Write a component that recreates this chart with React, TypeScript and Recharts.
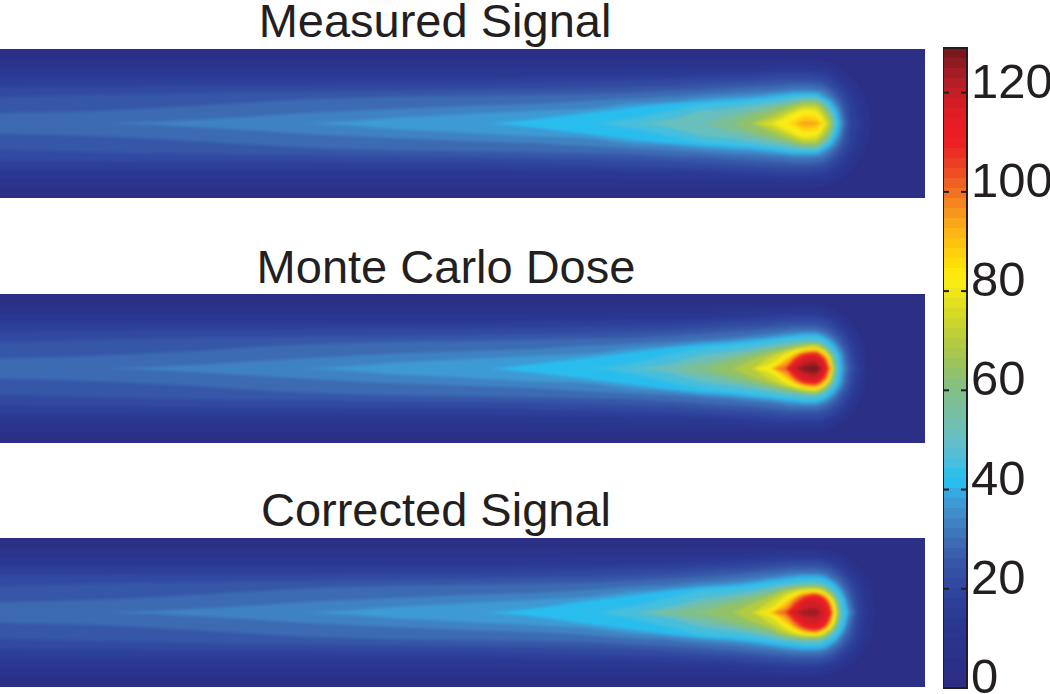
import { AreaChart, Area, BarChart, Bar, XAxis, YAxis, ReferenceArea } from 'recharts';

// position along the beam where the contour half-widths were read
const X_STOPS = [-20, 100, 200, 300, 400, 480, 540, 590, 630, 670, 700, 730, 750, 770, 785, 795, 805, 815, 822, 826, 829, 832, 834, 836, 838, 840, 842, 844, 846, 849, 852, 856, 860, 864, 868, 872, 876, 880, 945];

const LEVELS = [6, 10, 14, 18, 22, 26, 30, 34, 38, 42, 48, 54, 60, 66, 72, 78, 84, 90, 96, 102, 108, 114, 120, 125];

// one row per level, half-width of the contour at each stop (missing = 0)
const measuredWidths = [
  [64, 64, 64, 64, 64, 64, 64, 64, 64, 64, 64, 64, 64, 64, 64, 64, 64, 64, 63, 62, 61, 60, 59, 58, 57, 55, 54, 53, 51, 49, 46, 41, 35, 28, 16],
  [54, 54, 54, 54, 54, 54, 54, 54, 55, 55, 55, 56, 56, 57, 58, 58, 58, 57, 56, 55, 54, 53, 51, 50, 49, 47, 46, 44, 42, 38, 34, 27, 16],
  [46, 46, 46, 46, 46, 46, 47, 47, 48, 48, 49, 50, 51, 52, 53, 53, 53, 52, 51, 50, 48, 47, 46, 44, 43, 41, 39, 37, 34, 30, 24, 11],
  [37, 38, 39, 39, 40, 40, 41, 42, 43, 44, 45, 46, 47, 48, 49, 49, 49, 48, 47, 45, 44, 42, 40, 38, 37, 34, 32, 29, 25, 18],
  [26, 29, 31, 32, 33, 34, 35, 36, 37, 38, 40, 41, 42, 43, 44, 44, 44, 43, 42, 40, 38, 36, 34, 32, 30, 27, 24, 20, 14],
  [10, 13, 18, 24, 27, 28, 29, 30, 31, 33, 34, 36, 37, 38, 39, 40, 40, 39, 38, 36, 34, 31, 29, 27, 24, 21, 16, 10],
  [0, 0, 4, 10, 15, 18, 20, 23, 25, 27, 29, 31, 32, 33, 34, 35, 35, 34, 33, 31, 29, 26, 24, 22, 19, 15, 9],
  [0, 0, 0, 0, 6, 10, 13, 15, 20, 22, 25, 27, 28, 30, 31, 32, 32, 32, 30, 27, 25, 23, 20, 17, 14, 8],
  [0, 0, 0, 0, 0, 0, 5, 11, 16, 20, 22, 24, 25, 27, 29, 30, 30, 30, 27, 25, 23, 20, 17, 13, 8],
  [0, 0, 0, 0, 0, 0, 0, 0, 5, 13, 19, 21, 23, 25, 27, 28, 28, 28, 25, 23, 20, 16, 13, 8],
  [0, 0, 0, 0, 0, 0, 0, 0, 0, 4, 12, 15, 18, 21, 23, 25, 26, 26, 23, 20, 17, 12, 7],
  [0, 0, 0, 0, 0, 0, 0, 0, 0, 0, 0, 8, 13, 17, 20, 22, 24, 24, 21, 18, 14, 8],
  [0, 0, 0, 0, 0, 0, 0, 0, 0, 0, 0, 0, 8, 14, 18, 20, 22, 22, 18, 14, 9],
  [0, 0, 0, 0, 0, 0, 0, 0, 0, 0, 0, 0, 0, 8, 14, 18, 20, 20, 15, 11, 6],
  [0, 0, 0, 0, 0, 0, 0, 0, 0, 0, 0, 0, 0, 3, 10, 14, 17, 17, 11, 4],
  [0, 0, 0, 0, 0, 0, 0, 0, 0, 0, 0, 0, 0, 0, 6, 11, 14, 13, 6],
  [0, 0, 0, 0, 0, 0, 0, 0, 0, 0, 0, 0, 0, 0, 0, 3, 8, 7, 1],
  [0, 0, 0, 0, 0, 0, 0, 0, 0, 0, 0, 0, 0, 0, 0, 0, 3, 2],
];

const monteCarloWidths = [
  [64, 64, 64, 64, 64, 64, 64, 64, 64, 64, 64, 64, 64, 64, 64, 64, 64, 64, 63, 62, 61, 60, 59, 58, 57, 55, 54, 53, 51, 48, 45, 40, 33, 24],
  [54, 54, 54, 54, 54, 54, 54, 54, 55, 55, 55, 56, 57, 58, 58, 59, 59, 59, 58, 57, 55, 54, 53, 52, 50, 49, 47, 45, 43, 40, 35, 28, 17],
  [46, 46, 46, 46, 46, 46, 47, 47, 48, 48, 49, 51, 52, 53, 54, 54, 54, 54, 53, 51, 50, 49, 47, 46, 45, 43, 41, 39, 36, 32, 27, 16],
  [37, 38, 39, 39, 40, 40, 41, 42, 43, 44, 45, 47, 48, 49, 50, 51, 51, 51, 50, 48, 47, 45, 43, 42, 40, 38, 36, 33, 30, 24, 16],
  [26, 29, 31, 32, 33, 34, 35, 36, 37, 38, 40, 42, 43, 44, 46, 46, 46, 46, 44, 43, 41, 39, 38, 36, 34, 32, 29, 26, 23, 15],
  [10, 13, 18, 24, 27, 28, 29, 30, 31, 33, 35, 37, 38, 40, 41, 42, 42, 42, 40, 39, 37, 35, 33, 31, 29, 26, 23, 19, 14],
  [0, 0, 4, 10, 15, 18, 20, 23, 25, 27, 29, 31, 33, 35, 37, 38, 38, 38, 36, 35, 33, 31, 29, 27, 24, 22, 18, 13],
  [0, 0, 0, 0, 6, 10, 13, 15, 20, 23, 26, 28, 30, 32, 34, 35, 36, 36, 34, 32, 30, 28, 26, 24, 21, 17, 13],
  [0, 0, 0, 0, 0, 0, 5, 11, 16, 21, 24, 26, 28, 30, 32, 33, 34, 34, 32, 30, 28, 25, 23, 20, 17, 12],
  [0, 0, 0, 0, 0, 0, 0, 0, 5, 14, 20, 23, 25, 28, 30, 31, 32, 32, 30, 28, 25, 22, 20, 16, 12],
  [0, 0, 0, 0, 0, 0, 0, 0, 0, 5, 13, 17, 20, 23, 26, 27, 28, 28, 26, 24, 21, 18, 15, 11],
  [0, 0, 0, 0, 0, 0, 0, 0, 0, 0, 6, 13, 17, 21, 24, 25, 26, 26, 24, 21, 18, 14, 10],
  [0, 0, 0, 0, 0, 0, 0, 0, 0, 0, 0, 8, 13, 18, 21, 23, 25, 25, 23, 20, 17, 12, 7],
  [0, 0, 0, 0, 0, 0, 0, 0, 0, 0, 0, 0, 8, 15, 19, 21, 23, 24, 21, 19, 15, 10],
  [0, 0, 0, 0, 0, 0, 0, 0, 0, 0, 0, 0, 0, 11, 17, 20, 22, 23, 20, 17, 14, 7],
  [0, 0, 0, 0, 0, 0, 0, 0, 0, 0, 0, 0, 0, 4, 14, 18, 20, 21, 18, 15, 11],
  [0, 0, 0, 0, 0, 0, 0, 0, 0, 0, 0, 0, 0, 0, 10, 15, 19, 20, 17, 14, 9],
  [0, 0, 0, 0, 0, 0, 0, 0, 0, 0, 0, 0, 0, 0, 7, 14, 17, 18, 15, 11, 6],
  [0, 0, 0, 0, 0, 0, 0, 0, 0, 0, 0, 0, 0, 0, 3, 12, 16, 17, 14, 10],
  [0, 0, 0, 0, 0, 0, 0, 0, 0, 0, 0, 0, 0, 0, 0, 10, 15, 16, 12, 8],
  [0, 0, 0, 0, 0, 0, 0, 0, 0, 0, 0, 0, 0, 0, 0, 8, 14, 15, 11, 5],
  [0, 0, 0, 0, 0, 0, 0, 0, 0, 0, 0, 0, 0, 0, 0, 3, 11, 12, 7],
  [0, 0, 0, 0, 0, 0, 0, 0, 0, 0, 0, 0, 0, 0, 0, 0, 5, 7],
  [0, 0, 0, 0, 0, 0, 0, 0, 0, 0, 0, 0, 0, 0, 0, 0, 1, 3],
];

const correctedWidths = [
  [64, 64, 64, 64, 64, 64, 64, 64, 64, 64, 64, 64, 64, 64, 64, 64, 64, 64, 63, 63, 62, 61, 61, 60, 59, 58, 57, 56, 55, 53, 51, 47, 43, 38, 31, 23],
  [54, 54, 54, 54, 54, 54, 54, 55, 55, 55, 56, 57, 58, 59, 60, 60, 60, 60, 59, 58, 58, 57, 56, 55, 54, 53, 51, 50, 48, 46, 43, 38, 31, 23],
  [46, 46, 46, 46, 46, 46, 47, 47, 48, 49, 50, 51, 53, 54, 55, 55, 55, 55, 54, 53, 52, 51, 50, 49, 48, 47, 46, 44, 42, 39, 36, 30, 22],
  [37, 38, 39, 39, 40, 40, 41, 42, 43, 44, 46, 47, 49, 50, 51, 52, 52, 52, 51, 50, 49, 48, 47, 45, 44, 42, 41, 39, 37, 33, 28, 19],
  [26, 29, 31, 32, 33, 34, 35, 36, 37, 39, 41, 43, 44, 46, 47, 48, 48, 48, 47, 46, 45, 43, 42, 41, 39, 38, 36, 34, 31, 27, 20],
  [10, 13, 18, 24, 27, 28, 29, 30, 32, 34, 36, 38, 40, 42, 43, 44, 44, 44, 43, 42, 41, 39, 38, 36, 35, 33, 31, 28, 25, 19, 10],
  [0, 0, 4, 10, 15, 18, 20, 23, 26, 28, 31, 33, 35, 37, 39, 40, 40, 40, 39, 38, 36, 35, 33, 32, 30, 28, 25, 22, 18, 9],
  [0, 0, 0, 0, 6, 10, 13, 16, 21, 24, 27, 29, 31, 34, 36, 37, 38, 38, 37, 36, 34, 32, 31, 29, 27, 24, 22, 18, 13],
  [0, 0, 0, 0, 0, 0, 5, 12, 17, 22, 25, 27, 29, 32, 34, 35, 36, 36, 35, 34, 32, 30, 29, 27, 25, 22, 19, 15, 9],
  [0, 0, 0, 0, 0, 0, 0, 0, 6, 15, 22, 24, 26, 29, 31, 32, 33, 33, 32, 30, 29, 27, 25, 23, 21, 18, 14, 8],
  [0, 0, 0, 0, 0, 0, 0, 0, 0, 6, 14, 18, 21, 25, 28, 29, 30, 30, 29, 27, 25, 23, 21, 19, 15, 11],
  [0, 0, 0, 0, 0, 0, 0, 0, 0, 2, 8, 14, 18, 22, 26, 27, 28, 28, 27, 25, 23, 20, 18, 15, 11],
  [0, 0, 0, 0, 0, 0, 0, 0, 0, 0, 1, 9, 14, 19, 24, 25, 26, 27, 26, 24, 22, 19, 16, 13, 8],
  [0, 0, 0, 0, 0, 0, 0, 0, 0, 0, 0, 0, 8, 16, 22, 24, 25, 25, 24, 22, 20, 17, 14, 10],
  [0, 0, 0, 0, 0, 0, 0, 0, 0, 0, 0, 0, 0, 11, 19, 22, 24, 24, 23, 20, 18, 15, 12, 7],
  [0, 0, 0, 0, 0, 0, 0, 0, 0, 0, 0, 0, 0, 4, 15, 20, 22, 23, 21, 19, 17, 13, 10],
  [0, 0, 0, 0, 0, 0, 0, 0, 0, 0, 0, 0, 0, 1, 11, 17, 20, 21, 19, 17, 14, 9],
  [0, 0, 0, 0, 0, 0, 0, 0, 0, 0, 0, 0, 0, 0, 7, 15, 19, 20, 18, 16, 12, 6],
  [0, 0, 0, 0, 0, 0, 0, 0, 0, 0, 0, 0, 0, 0, 3, 13, 18, 19, 17, 14, 11],
  [0, 0, 0, 0, 0, 0, 0, 0, 0, 0, 0, 0, 0, 0, 0, 10, 16, 18, 16, 13, 8],
  [0, 0, 0, 0, 0, 0, 0, 0, 0, 0, 0, 0, 0, 0, 0, 7, 15, 17, 15, 11, 6],
  [0, 0, 0, 0, 0, 0, 0, 0, 0, 0, 0, 0, 0, 0, 0, 2, 10, 12, 9],
  [0, 0, 0, 0, 0, 0, 0, 0, 0, 0, 0, 0, 0, 0, 0, 0, 3, 5],
];

// colour bar, bottom to top, 64 steps
const COLORBAR = [
  '#2b2e83', '#2b2f85', '#2a3087', '#2a328a', '#2a348d', '#2a3690', '#2b3892', '#2c3b95',
  '#2d3f98', '#2f449c', '#3149a0', '#344fa3', '#3656a7', '#3a60ad', '#3c6ab3', '#3e76bb',
  '#3f82c3', '#3f8ecb', '#3e9ad4', '#35a9e0', '#29bdee', '#2fbfe8', '#46bedd', '#58bdd2',
  '#62bec8', '#69bfbc', '#70bfaf', '#77bfa2', '#7cbf95', '#81c088', '#86c07c', '#91c26a',
  '#9cc45a', '#a8c74c', '#b3cb40', '#bfd036', '#cbd52c', '#d7da24', '#e2e01e', '#eee619',
  '#f9ec14', '#ffe80c', '#ffdd0a', '#fed00d', '#fdc310', '#fcb514', '#faa619', '#f7961d',
  '#f58520', '#f37222', '#f16023', '#ef4e24', '#ee3d25', '#ed2e25', '#ed2124', '#ec1c24',
  '#e81c24', '#e01c25', '#d31d26', '#c41e27', '#b41e27', '#a31d25', '#8f1b22', '#7c181d',
];
const COLORBAR_TICKS = [0, 20, 40, 60, 80, 100, 120];
const COLORBAR_MAX = 129;

const INK = '#231f20';
const FONT = '"Liberation Sans", Arial, sans-serif';

const bandColor = (level: number) => COLORBAR[Math.min(Math.floor((level + 2) / 2), 63)];

function toChartData(rows: number[][]) {
  return X_STOPS.map((x, i) => {
    const d: Record<string, any> = { x };
    rows.forEach((row, j) => {
      const h = row[i] ?? 0;
      d[`l${LEVELS[j]}`] = [-h, h];
    });
    return d;
  });
}

function Panel({ top, height, rows }: { top: number; height: number; rows: number[][] }) {
  return (
    <div style={{ position: 'absolute', left: 0, top, width: 925, height, overflow: 'hidden', background: COLORBAR[1] }}>
      <div style={{ position: 'absolute', left: -20, top: -20, filter: 'blur(1.8px)' }}>
        <AreaChart width={965} height={height + 40} data={toChartData(rows)} margin={{ top: 0, right: 0, bottom: 0, left: 0 }}>
          <XAxis dataKey="x" type="number" domain={[-20, 945]} hide />
          <YAxis type="number" domain={[-(height + 40) / 2, (height + 40) / 2]} hide />
          {rows.map((_, j) => (
            <Area
              key={LEVELS[j]}
              dataKey={`l${LEVELS[j]}`}
              type="monotone"
              stroke="none"
              fill={bandColor(LEVELS[j])}
              fillOpacity={1}
              dot={false}
              activeDot={false}
              isAnimationActive={false}
            />
          ))}
        </AreaChart>
      </div>
    </div>
  );
}

function Title({ text, center, top }: { text: string; center: number; top: number }) {
  return (
    <div
      style={{
        position: 'absolute',
        left: center - 300,
        width: 600,
        top,
        textAlign: 'center',
        fontFamily: FONT,
        fontSize: 47,
        lineHeight: '41px',
        color: INK,
      }}
    >
      {text}
    </div>
  );
}

function ColorbarTick({ x, y, payload }: any) {
  return (
    <g>
      <line x1={x - 24} x2={x - 18} y1={y} y2={y} stroke={INK} strokeWidth={2} />
      <line x1={x - 6} x2={x} y1={y} y2={y} stroke={INK} strokeWidth={2} />
      <text x={x + 4} y={y + 5} fontFamily={FONT} fontSize={49} fill={INK} textAnchor="start">
        {payload.value}
      </text>
    </g>
  );
}

const colorbarRow: Record<string, any> = { name: 'scale' };
COLORBAR.forEach((_, i) => {
  colorbarRow[`c${i}`] = COLORBAR_MAX / COLORBAR.length;
});

const colorbarMargin = { top: 48, right: 0, bottom: 6, left: 0 };

export default function App() {
  return (
    <div style={{ position: 'absolute', left: 0, top: 0, width: 1050, height: 694, overflow: 'hidden', background: '#fff' }}>
      <Panel top={49} height={149} rows={measuredWidths} />
      <Panel top={294} height={149} rows={monteCarloWidths} />
      <Panel top={538} height={149} rows={correctedWidths} />
      <Title text="Measured Signal" center={435} top={0} />
      <Title text="Monte Carlo Dose" center={446} top={246} />
      <Title text="Corrected Signal" center={436} top={489} />
      <div style={{ position: 'absolute', left: 943, top: 0 }}>
        <BarChart width={107} height={694} data={[colorbarRow]} barCategoryGap={0} margin={colorbarMargin}>
          <XAxis dataKey="name" hide />
          <YAxis orientation="right" width={83} type="number" domain={[0, COLORBAR_MAX]} tick={false} axisLine={false} tickLine={false} />
          {COLORBAR.map((c, i) => (
            <Bar key={i} dataKey={`c${i}`} stackId="scale" fill={c} isAnimationActive={false} />
          ))}
        </BarChart>
      </div>
      {/* frame and ticks sit over the bars, so they go in a second chart on top */}
      <div style={{ position: 'absolute', left: 943, top: 0 }}>
        <BarChart width={107} height={694} data={[colorbarRow]} margin={colorbarMargin}>
          <XAxis dataKey="name" hide />
          <YAxis
            orientation="right"
            width={83}
            type="number"
            domain={[0, COLORBAR_MAX]}
            ticks={COLORBAR_TICKS}
            interval={0}
            axisLine={false}
            tickLine={false}
            tickSize={0}
            tickMargin={0}
            tick={<ColorbarTick />}
          />
          <Bar dataKey="c0" fill="none" isAnimationActive={false} />
          <ReferenceArea y1={0} y2={COLORBAR_MAX} fill="none" stroke={INK} strokeWidth={2} />
        </BarChart>
      </div>
    </div>
  );
}
